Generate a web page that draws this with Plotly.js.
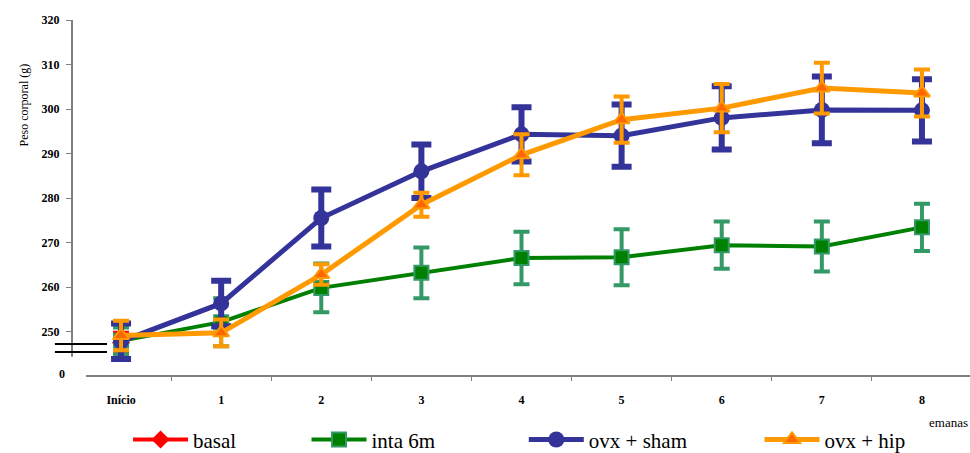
<!DOCTYPE html>
<html>
<head>
<meta charset="utf-8">
<script src="https://cdn.plot.ly/plotly-3.0.1.min.js"></script>
<style>html,body{margin:0;padding:0;background:#fff;}#chart{width:970px;height:453px;}</style>
</head>
<body>
<div id="chart"></div>
<script>
// ---- data ----
const weeks = ["Início", "1", "2", "3", "4", "5", "6", "7", "8"];
const basalX = ["Início"];
const basal = [247.5];
const basalErr = [2.2];
const inta = [247.9, 252.1, 259.8, 263.2, 266.5, 266.7, 269.4, 269.1, 273.4];
const intaErr = [3.0, 5.4, 5.5, 5.7, 5.9, 6.3, 5.3, 5.6, 5.3];
const sham = [247.8, 256.3, 275.5, 286.0, 294.3, 294.0, 298.0, 299.8, 299.7];
const shamErr = [4.0, 5.1, 6.4, 6.0, 6.1, 7.0, 7.1, 7.5, 7.0];
const hip = [249.1, 249.7, 262.8, 278.5, 289.7, 297.6, 300.2, 304.7, 303.6];
const hipErr = [3.3, 3.0, 2.3, 2.7, 4.6, 5.2, 5.4, 5.7, 5.3];
const yTickVals = [250, 260, 270, 280, 290, 300, 310, 320];
const yTickText = ["250", "260", "270", "280", "290", "300", "310", "320"];

const serif = "Liberation Serif";

const traces = [
  {
    name: "basal", x: basalX, y: basal, type: "scatter", mode: "lines+markers",
    line: {color: "#FF0000", width: 4},
    marker: {symbol: "diamond", size: 14, color: "#FF0000"},
    error_y: {type: "data", array: basalErr, visible: true, color: "#FF0000", thickness: 4, width: 8},
    legend: "legend"
  },
  {
    name: "inta 6m", x: weeks, y: inta, type: "scatter", mode: "lines+markers",
    line: {color: "#008000", width: 4},
    marker: {symbol: "square", size: 14, color: "#008000", line: {color: "#339966", width: 2}},
    error_y: {type: "data", array: intaErr, visible: true, color: "#339966", thickness: 4, width: 8},
    legend: "legend2"
  },
  {
    name: "ovx + sham", x: weeks, y: sham, type: "scatter", mode: "lines+markers",
    line: {color: "#333399", width: 5},
    marker: {symbol: "circle", size: 16, color: "#333399"},
    error_y: {type: "data", array: shamErr, visible: true, color: "#333399", thickness: 6, width: 10},
    legend: "legend3"
  },
  {
    name: "ovx + hip", x: weeks, y: hip, type: "scatter", mode: "lines+markers",
    line: {color: "#FF9900", width: 5},
    marker: {symbol: "triangle-up", size: 14, color: "#FF6600", line: {color: "#FF9900", width: 2}},
    error_y: {type: "data", array: hipErr, visible: true, color: "#FF9900", thickness: 4, width: 8},
    legend: "legend4"
  }
];

function leg(x) {
  return {
    x: x, y: 0.029, xref: "container", yref: "container", xanchor: "left", yanchor: "middle",
    orientation: "h", itemwidth: 55, bgcolor: "rgba(0,0,0,0)",
    font: {family: serif, size: 21, color: "#000"}
  };
}

const grey = "#808080";
const layout = {
  width: 970, height: 453,
  margin: {l: 72, r: 0, t: 20, b: 77},
  paper_bgcolor: "#fff", plot_bgcolor: "#fff",
  font: {family: serif},
  showlegend: true,
  legend: leg(0.132),
  legend2: leg(0.316),
  legend3: leg(0.540),
  legend4: leg(0.783),
  xaxis: {
    type: "category", categoryorder: "array", categoryarray: weeks,
    range: [-0.49, 8.48], showgrid: false, zeroline: false, showline: false,
    tickson: "boundaries", ticks: "outside", ticklen: 4, tickwidth: 1, tickcolor: grey,
    tickfont: {family: serif, size: 12, color: "#000", weight: "bold"},
    ticklabelstandoff: 15
  },
  yaxis: {
    range: [240, 320], showgrid: false, zeroline: false, showline: false,
    tickvals: yTickVals, ticktext: yTickText,
    ticks: "outside", ticklen: 5, tickwidth: 1, tickcolor: grey,
    tickfont: {family: serif, size: 12, color: "#000", weight: "bold"},
    ticklabelstandoff: 4
  },
  shapes: [
    // y axis line (broken near bottom)
    {type: "line", xref: "paper", yref: "y", x0: 0, x1: 0, y0: 244.3, y1: 320, line: {color: grey, width: 2}},
    // x axis line
    {type: "line", xref: "paper", yref: "paper", x0: 0.0156, x1: 1, y0: 0, y1: 0, line: {color: grey, width: 2}},
    // axis break marks
    {type: "line", xref: "paper", yref: "paper", x0: -0.019, x1: 0.039, y0: 0.0899, y1: 0.0899, line: {color: "#000", width: 2}},
    {type: "line", xref: "paper", yref: "paper", x0: -0.019, x1: 0.039, y0: 0.0674, y1: 0.0674, line: {color: "#000", width: 2}}
  ],
  annotations: [
    {text: "Peso corporal (g)", textangle: -90, xref: "paper", yref: "paper", x: -0.0635, y: 0.885,
     showarrow: false, font: {family: serif, size: 12, color: "#000"}},
    {text: "0", xref: "paper", yref: "y", x: -0.0056, y: 240.5, xanchor: "right", showarrow: false,
     font: {family: serif, size: 12, color: "#000", weight: "bold"}},
    {text: "emanas", xref: "paper", yref: "paper", x: 1, xanchor: "right", y: -0.13, yanchor: "middle", showarrow: false,
     font: {family: serif, size: 13, color: "#000"}}
  ]
};

Plotly.newPlot("chart", traces, layout, {displayModeBar: false, staticPlot: true});
</script>
</body>
</html>
